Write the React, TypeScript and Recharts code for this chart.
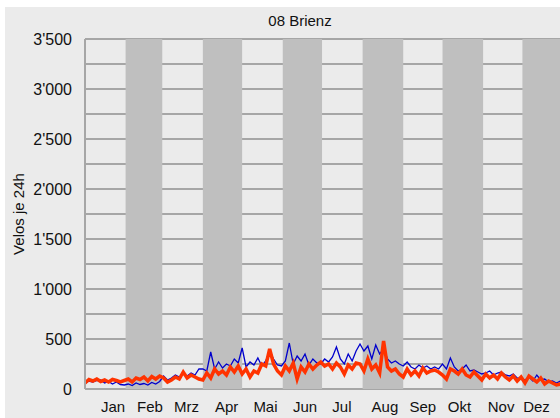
import { ComposedChart, Line, XAxis, YAxis, CartesianGrid, ReferenceArea } from 'recharts'

// one value every 3 days, starting Jan 1 (day 0)
const blue = [
  55, 80, 70, 85, 90, 60, 75, 50, 70, 45,
  40, 50, 35, 60, 45, 55, 40, 65, 50, 75,
  130, 90, 110, 140, 120, 150, 130, 160, 140, 200,
  200, 180, 370, 200, 270, 210, 250, 230, 300, 260,
  410, 220, 270, 240, 310, 230, 280, 380, 300, 240,
  230, 280, 460, 250, 330, 280, 350, 240, 300, 260,
  250, 300, 270, 320, 420, 300, 250, 350, 280, 380,
  450, 380, 430, 300, 440, 350, 400, 300, 260, 280,
  250, 230, 270, 220, 200, 240, 210, 230, 200, 220,
  200, 250, 200, 310, 220, 180, 200, 240, 180, 190,
  170, 150, 160, 180, 140, 160, 170, 140, 130, 150,
  110, 100, 90, 120, 80, 140, 90, 100, 70, 80, 60, 80,
]

const orange = [
  60, 95, 80, 100, 75, 90, 70, 95, 85, 70,
  85, 100, 70, 110, 95, 120, 80, 125, 100, 130,
  110, 70, 90, 120, 100, 170, 110, 140, 120, 100,
  90, 160, 110, 200, 150, 180, 140, 220, 170, 230,
  150, 200, 120, 180, 160, 250, 230, 400, 250, 180,
  140, 230, 180, 260, 100, 220, 170, 250, 200, 240,
  270, 230, 250, 200, 260, 220, 150, 240, 200, 260,
  250, 180, 300, 200, 240, 160, 480, 220, 180, 200,
  150, 120, 200, 140, 180, 130, 210, 160, 180, 190,
  170, 140, 100, 200, 180, 150, 200, 140, 120, 170,
  130, 90, 150, 110, 140, 100, 160, 120, 90, 130,
  80, 120, 60, 130, 100, 70, 110, 50, 80, 60, 40, 50,
]

const monthLabels = ['Jan', 'Feb', 'Mrz', 'Apr', 'Mai', 'Jun', 'Jul', 'Aug', 'Sep', 'Okt', 'Nov', 'Dez']
const monthTicks = [21.4, 49.6, 77.5, 108.1, 137.8, 168, 196.2, 229, 258, 286, 317.7, 344.8]
const shadedMonths = [
  [31, 59],
  [90, 120],
  [151, 181],
  [212, 243],
  [273, 304],
  [334, 365],
]
const yTicks = [0, 500, 1000, 1500, 2000, 2500, 3000, 3500]
const gridValues = [0, 250, 500, 750, 1000, 1250, 1500, 1750, 2000, 2250, 2500, 2750, 3000, 3250, 3500]

const data = blue.map((b, i) => ({ day: i * 3, blue: b, orange: orange[i] }))

const fmt = (v: number) => {
  const s = String(v)
  return s.length > 3 ? s.slice(0, -3) + "'" + s.slice(-3) : s
}

const font = '"Liberation Sans", Arial, sans-serif'
const grid = '#a6a6a6'

function App() {
  return (
    <div
      style={{
        position: 'fixed',
        left: 5,
        top: 7,
        width: 555,
        height: 411,
        overflow: 'hidden',
        background: '#ebebeb',
        fontFamily: font,
      }}
    >
      <div
        style={{
          position: 'absolute',
          left: 195,
          width: 200,
          top: 5,
          textAlign: 'center',
          fontSize: 15,
          lineHeight: '18px',
          color: '#111',
        }}
      >
        08 Brienz
      </div>
      <div
        style={{
          position: 'absolute',
          left: 13.5 - 60,
          top: 206.5 - 9,
          width: 120,
          height: 18,
          lineHeight: '18px',
          textAlign: 'center',
          fontSize: 15,
          color: '#111',
          transform: 'rotate(-90deg)',
        }}
      >
        Velos je 24h
      </div>
      <ComposedChart
        width={565}
        height={411}
        data={data}
        margin={{ top: 32, right: 7, left: 0, bottom: 0 }}
        style={{ fontFamily: font }}
      >
        <CartesianGrid vertical={false} horizontalValues={gridValues} stroke={grid} strokeWidth={2} />
        {shadedMonths.map(([a, b]) => (
          <ReferenceArea key={a} x1={a} x2={b} y1={0} y2={3500} fill="#bfbfbf" fillOpacity={1} stroke="none" />
        ))}
        <XAxis
          dataKey="day"
          type="number"
          domain={[0, 365]}
          ticks={monthTicks}
          tickFormatter={(v: number) => monthLabels[monthTicks.indexOf(v)]}
          axisLine={false}
          tickLine={false}
          tickSize={0}
          tickMargin={12}
          height={29}
          interval={0}
          tick={{ fill: '#111', fontSize: 15 }}
        />
        <YAxis
          type="number"
          domain={[0, 3500]}
          ticks={yTicks}
          tickFormatter={fmt}
          width={80}
          axisLine={{ stroke: grid, strokeWidth: 2 }}
          tickLine={false}
          tickSize={0}
          tickMargin={13}
          interval={0}
          tick={{ fill: '#111', fontSize: 16 }}
        />
        <Line type="linear" dataKey="blue" stroke="#0000cc" strokeWidth={1.3} dot={false} isAnimationActive={false} />
        <Line type="linear" dataKey="orange" stroke="#ff3300" strokeWidth={3.5} dot={false} isAnimationActive={false} />
      </ComposedChart>
    </div>
  )
}

export default App
